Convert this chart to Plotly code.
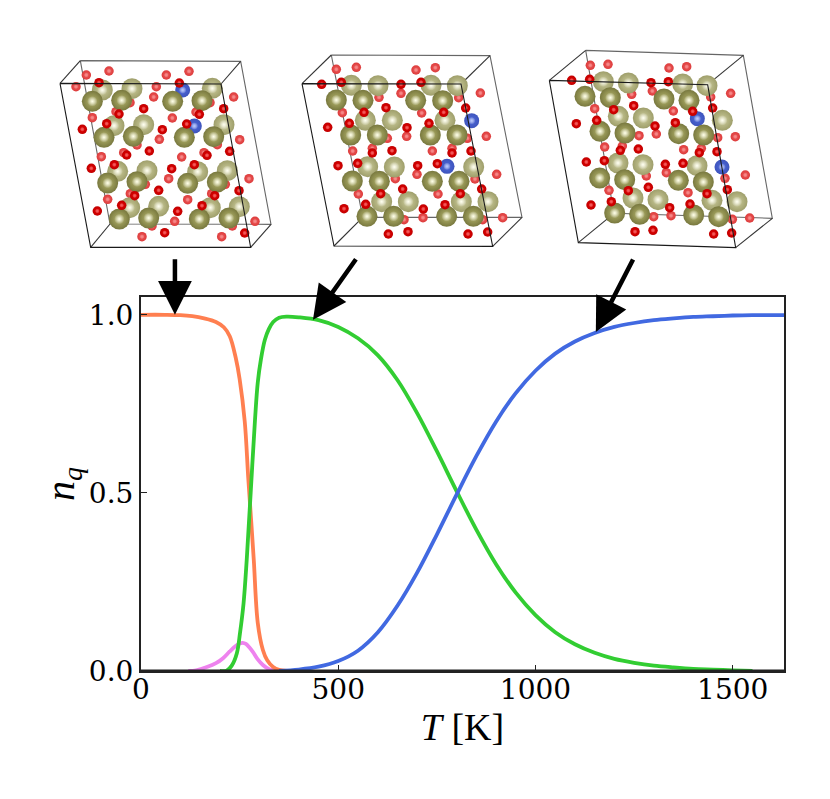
"""Occupation of charge states vs temperature, with three cell snapshots above."""
import plotly.graph_objects as go

# page body keeps its default 8 px margin, so the figure is a bit smaller than the window
W, H = 814, 783
PAGE = 8
ML, MR, MT, MB = 20, 0, 0, 20
SERIF = "DejaVu Serif"
MATH = "Liberation Serif, DejaVu Serif, serif"

# ---- curves ----
t_orange = [0, 60, 100, 130, 160, 190, 210, 225, 240, 250, 263, 272, 280, 286, 296, 309, 320, 335, 350, 370]
n_orange = [1, 1, .999, .996, .99, .98, .965, .94, .88, .82, .70, .54, .41, .31, .135, .059, .03, .011, .003, 0]

t_pink = [120, 140, 167, 190, 208, 225, 240, 250, 258, 266, 275, 284, 295, 309, 325, 345, 365]
n_pink = [0, .002, .011, .022, .036, .055, .07, .077, .079, .076, .066, .053, .034, .017, .005, .001, 0]

t_green = [200, 217, 230, 243, 251, 260, 268, 278, 289, 296, 304, 314, 324, 335, 350, 370, 400, 450, 500, 550,
           600, 650, 700, 750, 800, 850, 900, 950, 1000, 1050, 1100, 1150, 1200, 1250, 1300, 1350, 1400, 1450, 1500, 1550]
n_green = [0, .001, .015, .05, .107, .19, .312, .50, .705, .81, .875, .93, .96, .98, .992, .995, .993, .985, .966, .934,
           .887, .817, .724, .617, .505, .397, .300, .220, .157, .109, .075, .051, .034, .023, .015, .010, .006, .004, .002, 0]

t_blue = [350, 400, 450, 500, 550, 600, 650, 700, 750, 800, 850, 900, 950, 1000, 1050, 1100, 1150, 1200, 1250, 1300,
          1350, 1400, 1450, 1500, 1550, 1630]
n_blue = [0, .004, .012, .028, .057, .108, .183, .276, .383, .495, .603, .700, .780, .843, .891, .925, .949, .966, .977, .985,
          .990, .994, .996, .998, .999, .999]

t_base = [0, 1630]
n_base = [0, 0]

x_ticks = [0, 500, 1000, 1500]
y_ticks = [0, 0.5, 1.0]

# ---- snapshot 1 (positions in 3x crop units) ----
p1_cell_front = [(60, 130), (543, 132), (632, 622), (152, 622), (60, 130)]
p1_cell_back = [(121, 62), (602, 64), (693, 553), (210, 552), (121, 62)]
p1_olive_back = [(187, 150), (276, 146), (517, 145), (222, 257), (311, 254), (552, 254), (233, 394), (321, 392),
                 (562, 392), (473, 395), (269, 503), (356, 499), (511, 503), (598, 500)]
p1_olive_front = [(157, 184), (245, 181), (398, 184), (486, 182), (192, 292), (280, 289), (433, 292), (521, 290),
                  (203, 429), (291, 425), (443, 430), (532, 426), (238, 537), (326, 534), (478, 537), (567, 534)]
p1_blue = [(428, 150), (463, 258)]
p1_red_back = [(139, 105), (207, 93), (379, 105), (447, 94), (108, 140), (349, 140), (341, 171), (581, 171), (157, 233),
               (397, 234), (228, 215), (468, 216), (270, 188), (510, 188), (358, 298), (599, 299), (291, 315), (532, 314),
               (251, 338), (492, 338), (184, 350), (425, 351), (386, 416), (627, 416), (316, 433), (556, 433), (203, 478),
               (443, 479), (271, 461), (515, 461), (404, 544), (645, 544), (336, 558), (577, 558), (306, 590), (545, 590)]
p1_red_front = [(177, 128), (418, 129), (311, 206), (551, 206), (200, 251), (440, 252), (237, 222), (478, 223), (127, 268),
                (367, 269), (328, 333), (569, 334), (260, 345), (501, 346), (223, 374), (463, 374), (154, 385), (395, 386),
                (356, 451), (597, 452), (284, 467), (524, 467), (245, 496), (486, 497), (172, 513), (413, 514), (374, 578), (614, 579)]

# ---- snapshot 2 ----
p2_cell_front = [(36, 131), (513, 132), (608, 619), (132, 618), (36, 131)]
p2_cell_back = [(124, 45), (600, 47), (696, 532), (218, 532), (124, 45)]
p2_olive_back = [(184, 136), (264, 137), (423, 136), (502, 137), (226, 241), (307, 241), (465, 241), (233, 380), (313, 381),
                 (551, 381), (275, 485), (355, 485), (514, 485), (594, 485)]
p2_olive_front = [(139, 180), (219, 181), (377, 181), (458, 182), (182, 285), (262, 285), (421, 285), (501, 285),
                  (187, 423), (268, 424), (427, 424), (507, 424), (231, 529), (311, 529), (470, 529), (550, 529)]
p2_blue = [(545, 242), (471, 379)]
p2_red_back = [(139, 88), (199, 82), (378, 90), (436, 83), (333, 160), (571, 159), (267, 172), (506, 173), (157, 218), (395, 219),
               (292, 295), (350, 289), (532, 295), (589, 289), (188, 333), (427, 333), (247, 325), (486, 325), (381, 403), (620, 403),
               (316, 416), (555, 417), (205, 462), (444, 462), (399, 533), (638, 533), (342, 539), (578, 539)]
p2_red_front = [(154, 127), (393, 127), (333, 133), (288, 203), (527, 204), (222, 217), (461, 217), (178, 250), (417, 250),
                (113, 262), (351, 263), (306, 332), (543, 333), (247, 339), (486, 339), (203, 370), (442, 371), (144, 377), (383, 377),
                (338, 447), (575, 447), (272, 461), (511, 461), (227, 493), (465, 494), (162, 506), (400, 507), (354, 575), (593, 576),
                (95, 133), (295, 582), (534, 582)]

# ---- snapshot 3 ----
p3_cell_front = [(28, 121), (503, 134), (587, 623), (115, 608), (28, 121)]
p3_cell_back = [(137, 31), (610, 46), (697, 535), (222, 520), (137, 31)]
p3_olive_back = [(190, 125), (265, 129), (428, 132), (501, 137), (235, 229), (310, 234), (547, 241), (234, 369), (309, 374),
                 (471, 377), (279, 474), (354, 479), (516, 481), (591, 485)]
p3_olive_front = [(135, 169), (211, 173), (372, 177), (447, 181), (180, 274), (255, 279), (416, 281), (491, 285),
                  (179, 414), (254, 419), (415, 421), (490, 426), (224, 519), (299, 523), (461, 525), (536, 530)]
p3_blue = [(472, 236), (546, 381)]
p3_red_back = [(151, 76), (204, 73), (387, 84), (440, 80), (337, 153), (572, 160), (275, 163), (512, 171), (164, 206), (400, 213),
               (297, 287), (349, 282), (533, 293), (586, 290), (194, 321), (431, 329), (247, 318), (484, 325), (379, 398), (616, 405),
               (319, 408), (555, 415), (207, 451), (444, 458), (393, 527), (629, 534), (341, 530), (577, 538)]
p3_red_front = [(149, 118), (95, 121), (333, 128), (385, 125), (281, 197), (518, 204), (221, 209), (458, 214), (170, 241), (406, 248),
                (109, 251), (345, 258), (295, 327), (531, 335), (241, 331), (478, 338), (193, 362), (429, 370), (139, 366), (376, 373),
                (325, 442), (562, 449), (265, 452), (501, 461), (214, 485), (450, 492), (153, 495), (389, 503), (339, 571), (575, 579),
                (285, 575), (521, 582)]


def fx(px):
    return (px - PAGE - ML) / (W - ML - MR)


def fy(py):
    return 1 - (py - PAGE - MT) / (H - MT - MB)


fig = go.Figure()

# curves on the main axes
for t, n, col in [(t_pink, n_pink, "#EE82EE"), (t_orange, n_orange, "#FF7F50"),
                  (t_green, n_green, "#32CD32"), (t_blue, n_blue, "#4169E1")]:
    fig.add_trace(go.Scatter(x=t, y=n, mode="lines", showlegend=False, hoverinfo="skip",
                             line=dict(color=col, width=3.8, shape="spline", smoothing=1.0)))

# the heavier line along n = 0
fig.add_trace(go.Scatter(x=t_base, y=n_base, mode="lines", showlegend=False, hoverinfo="skip", cliponaxis=False,
                         line=dict(color="#222222", width=3)))


def atoms(pts, size, base, rim, glint, xa, ya):
    """Sphere: shaded disc plus a small soft highlight on top."""
    xs = [p[0] for p in pts]
    ys = [p[1] for p in pts]
    fig.add_trace(go.Scatter(x=xs, y=ys, xaxis=xa, yaxis=ya, mode="markers", showlegend=False, hoverinfo="skip",
                             marker=dict(size=size, color=rim, line_width=0,
                                         gradient=dict(type="radial", color=base))))
    fig.add_trace(go.Scatter(x=xs, y=ys, xaxis=xa, yaxis=ya, mode="markers", showlegend=False, hoverinfo="skip",
                             marker=dict(size=size * 0.5, color="rgba(255,255,255,0)", line_width=0,
                                         gradient=dict(type="radial", color=glint))))


def cell_lines(pts, col, xa, ya):
    fig.add_trace(go.Scatter(x=[p[0] for p in pts], y=[p[1] for p in pts], xaxis=xa, yaxis=ya, mode="lines",
                             showlegend=False, hoverinfo="skip", line=dict(color=col, width=1.1)))


def snapshot(n, left, width, front, back, ob, of, blue, rb, rf):
    xa, ya = f"x{n}", f"y{n}"
    ax = dict(visible=False, fixedrange=True)
    fig.update_layout({
        f"xaxis{n}": dict(domain=[fx(left), fx(left + width)], range=[0, width * 3], anchor=ya, **ax),
        f"yaxis{n}": dict(domain=[fy(270), fy(40)], range=[690, 0], anchor=xa, **ax),
    })
    # back frame and the four connecting edges
    cell_lines(back, "#666666", xa, ya)
    for a, b in zip(front[:4], back[:4]):
        cell_lines([a, b], "#333333", xa, ya)
    atoms(rb, 9.5, "#F06060", "#DC3A3A", "rgba(255,150,150,0.7)", xa, ya)
    atoms(ob, 21, "#CFCF9F", "#9E9E6A", "#FFFFF0", xa, ya)
    atoms(blue, 15, "#4E6ADC", "#3E54BC", "#B8C8FF", xa, ya)
    atoms(of, 21, "#B8B870", "#78783E", "#FFFFE8", xa, ya)
    atoms(rf, 9.5, "#E80000", "#C00000", "rgba(255,110,110,0.8)", xa, ya)
    cell_lines(front, "#1A1A1A", xa, ya)


snapshot(2, 40, 250, p1_cell_front, p1_cell_back, p1_olive_back, p1_olive_front, p1_blue, p1_red_back, p1_red_front)
snapshot(3, 290, 240, p2_cell_front, p2_cell_back, p2_olive_back, p2_olive_front, p2_blue, p2_red_back, p2_red_front)
snapshot(4, 540, 250, p3_cell_front, p3_cell_back, p3_olive_back, p3_olive_front, p3_blue, p3_red_back, p3_red_front)

fig.update_layout(
    width=W, height=H,
    margin=dict(l=ML, r=MR, t=MT, b=MB),
    paper_bgcolor="white", plot_bgcolor="white",
    showlegend=False,
    font=dict(family=SERIF, color="black"),
    xaxis=dict(domain=[fx(141), fx(784)], range=[0, 1630], tickvals=x_ticks, ticks="inside", ticklen=6,
               tickwidth=1, tickcolor="#222222", tickfont=dict(family=SERIF, size=28), showgrid=False, zeroline=False,
               ticklabelstandoff=-8,
               showline=True, linewidth=2, linecolor="#222222", mirror=True, layer="above traces",
               title=dict(text="<i>T</i> [K]", font=dict(family=MATH, size=38), standoff=0)),
    yaxis=dict(domain=[fy(671), fy(297)], range=[0, 1.05], tickvals=y_ticks, tickformat=".1f", ticks="inside",
               ticklen=6, tickwidth=1, tickcolor="#222222", tickfont=dict(family=SERIF, size=28), showgrid=False,
               zeroline=False,
               showline=True, linewidth=2, linecolor="#222222", mirror=True, layer="above traces",
               title=dict(text="<i>n<sub>q</sub></i>", font=dict(family=MATH, size=40), standoff=2)),
)

# arrows from the snapshots down to the curve
for t, n, ax, ay in [(86, 1.0, 0, -57), (436, 0.986, 44, -62), (1153, 0.952, 38, -74)]:
    fig.add_annotation(x=t, y=n, xref="x", yref="y", ax=ax, ay=ay, text="", showarrow=True,
                       arrowhead=2, arrowsize=1.5, arrowwidth=4.5, arrowcolor="black")

fig.write_html("out.html", config=dict(displayModeBar=False))
